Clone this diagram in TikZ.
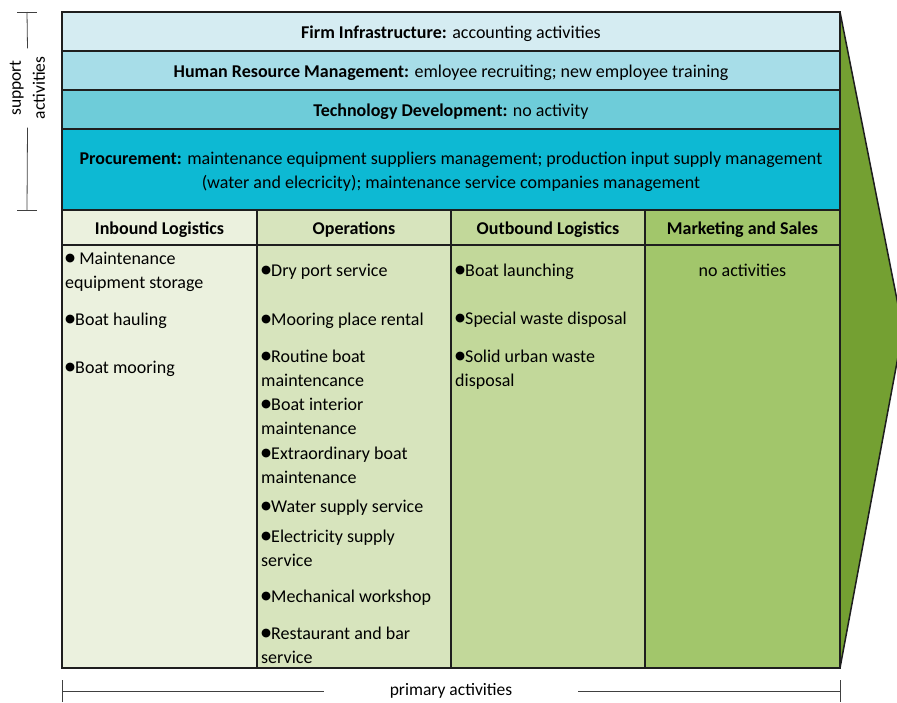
\documentclass[tikz,border=0pt]{standalone}
\usepackage{fontspec}
\setmainfont{Carlito}
\newfontfamily\symfont{DejaVu Sans}
\newcommand{\blt}{\raisebox{2.2pt}{\symfont\fontsize{11.5}{11.5}\selectfont ●}}
\definecolor{firmcol}{HTML}{D5ECF2}
\definecolor{hrmcol}{HTML}{A7DDE8}
\definecolor{techcol}{HTML}{6ECCD9}
\definecolor{proccol}{HTML}{0DB9D3}
\definecolor{inbcol}{HTML}{EBF1DE}
\definecolor{opcol}{HTML}{D7E4BD}
\definecolor{outcol}{HTML}{C2D89A}
\definecolor{mktcol}{HTML}{A2C66B}
\definecolor{arrowcol}{HTML}{74A032}
\definecolor{edgecol}{HTML}{1E1E1E}
\definecolor{brackcol}{HTML}{404040}

\begin{document}
\begin{tikzpicture}[x=1pt,y=-1pt,
	lbl/.style={font=\fontsize{18}{24}\selectfont, inner sep=0pt},
	head/.style={font=\fontsize{18}{24}\selectfont\bfseries, inner sep=0pt, anchor=base},
	item/.style={font=\fontsize{18}{24}\selectfont, inner sep=0pt, anchor=base west, align=left},
	band/.style={fill=#1, draw=edgecol, line width=1.5pt},
	side/.style={font=\fontsize{17.5}{24}\selectfont, text=black, align=center}]
				\useasboundingbox (0,0) rectangle (897,702);
				\begin{scope}
					\clip (0,0) rectangle (897,702);
					\filldraw [band=arrowcol] (840,12) -- (903,330) -- (840,668) -- cycle;
				\end{scope}
				\filldraw [band=firmcol] (62,12) rectangle (840,51);
				\filldraw [band=hrmcol] (62,51) rectangle (840,90);
				\filldraw [band=techcol] (62,90) rectangle (840,129);
				\filldraw [band=proccol] (62,129) rectangle (840,210);
				\filldraw [band=inbcol] (62,210) rectangle (257,668);
				\filldraw [band=opcol] (257,210) rectangle (451,668);
				\filldraw [band=outcol] (451,210) rectangle (645,668);
				\filldraw [band=mktcol] (645,210) rectangle (840,668);
				\draw [edgecol, line width=1.5pt] (62,245) -- (840,245);
				\node[lbl, anchor=base] (firm) at (451,38) {\textbf{Firm Infrastructure:} accounting activities};
				\node[lbl, anchor=base] (hrm) at (451,77.5) {\textbf{Human Resource Management:} emloyee recruiting; new employee training};
				\node[lbl, anchor=base] (tech) at (451,116.5) {\textbf{Technology Development:} no activity};
				\node[lbl, anchor=base, align=center] (proc) at (451,188) {\textbf{Procurement:} maintenance equipment suppliers management; production input supply management\\(water and elecricity); maintenance service companies management};
				\node[head] (inbhead) at (159.5,234) {Inbound Logistics};
				\node[head] (ophead) at (354,234) {Operations};
				\node[head] (outhead) at (548,234) {Outbound Logistics};
				\node[head] (mkthead) at (742.5,234) {Marketing and Sales};
				\begin{scope}[every node/.style={item}]
					\node (inb1) at (65,288) {\blt{} Maintenance\\equipment storage};
					\node (inb2) at (65,325) {\blt Boat hauling};
					\node (inb3) at (65,373) {\blt Boat mooring};
					\node (op1) at (261,276) {\blt Dry port service};
					\node (op2) at (261,325) {\blt Mooring place rental};
					\node (op3) at (261,386) {\blt Routine boat\\maintencance};
					\node (op4) at (261,434) {\blt Boat interior\\maintenance};
					\node (op5) at (261,483) {\blt Extraordinary boat\\maintenance};
					\node (op6) at (261,512) {\blt Water supply service};
					\node (op7) at (261,566) {\blt Electricity supply\\service};
					\node (op8) at (261,602) {\blt Mechanical workshop};
					\node (op9) at (261,663) {\blt Restaurant and bar\\service};
					\node (out1) at (455,276) {\blt Boat launching};
					\node (out2) at (455,324) {\blt Special waste disposal};
					\node (out3) at (455,386) {\blt Solid urban waste\\disposal};
				\end{scope}
				\node[lbl, anchor=base] (mkt1) at (742.5,276) {no activities};
				\coordinate (supTop) at (27,12);
				\coordinate (supBot) at (27,210);
				\node[side, rotate=90, inner sep=8pt] (support) at (27.5,88) {support\\activities};
				\draw [brackcol, thick] (17,12) -- (37,12);
				\draw [brackcol, thick] (17,210) -- (37,210);
				\draw [brackcol, thick] (supTop) -- (support.east);
				\draw [brackcol, thick] (support.west) -- (supBot);
				\coordinate (primL) at (62,691);
				\coordinate (primR) at (840,691);
				\node[side, inner ysep=0pt, inner xsep=66pt] (primary) at (451,691) {primary activities};
				\draw [brackcol, thick] (62,680) -- (62,702);
				\draw [brackcol, thick] (840,680) -- (840,702);
				\draw [brackcol, thick] (primL) -- (primary.west);
				\draw [brackcol, thick] (primary.east) -- (primR);
			\end{tikzpicture}
\end{document}
